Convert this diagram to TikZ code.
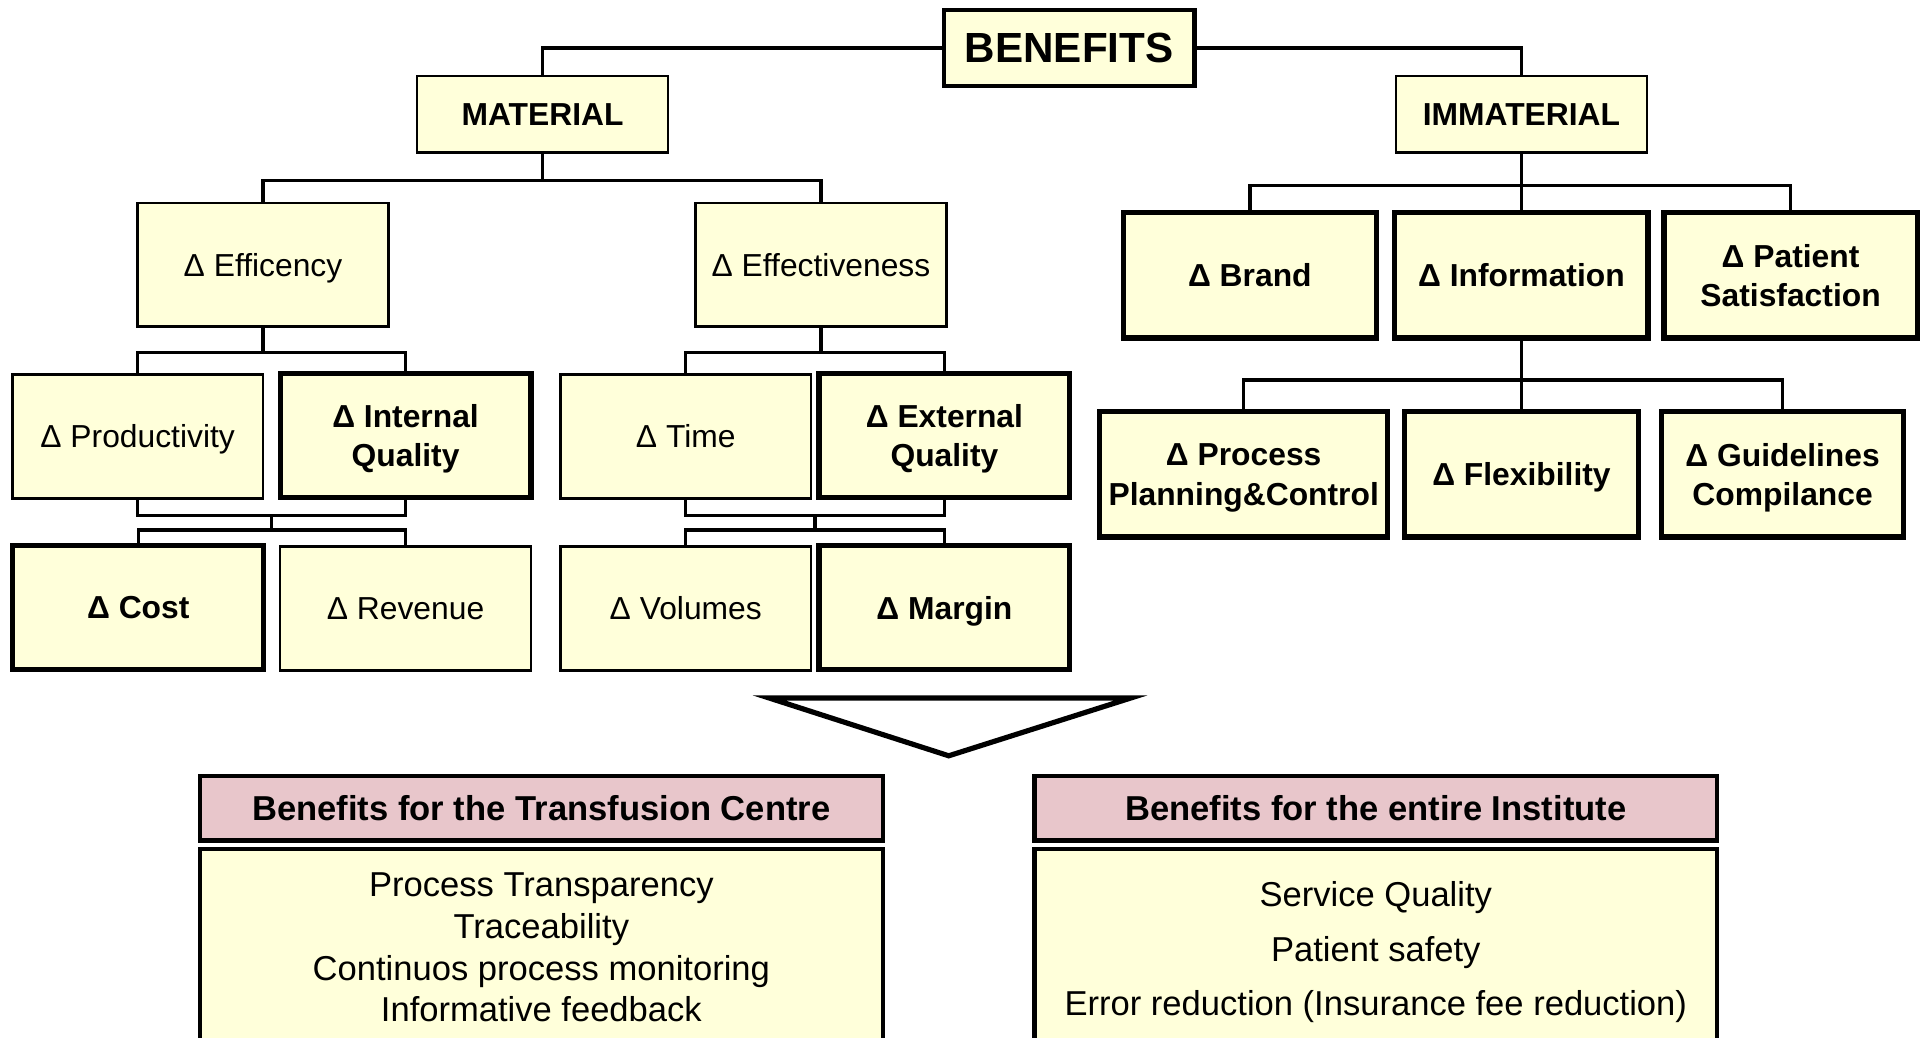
\documentclass[tikz,border=0pt]{standalone}
\usepackage{fontspec}
\setmainfont{Liberation Sans}
\usetikzlibrary{calc}

\definecolor{boxfill}{RGB}{255,255,218}
\definecolor{hdrfill}{RGB}{232,198,203}

% benefit tree styles
\tikzset{
  box/.style={draw, line width=0.75pt, fill=boxfill, inner sep=1pt, align=center,
    minimum width=2.55cm, minimum height=1.26cm, text depth=0pt,
    font=\fontsize{9.2}{11.4}\selectfont},
  keybox/.style={box, line width=1.5pt, font=\fontsize{9.2}{11.4}\selectfont\bfseries},
  headbox/.style={box, minimum height=0.775cm, font=\fontsize{9.2}{11.4}\selectfont\bfseries},
  link/.style={line width=1pt},
  titlebar/.style={draw, line width=1.2pt, fill=hdrfill, minimum width=6.94cm,
    minimum height=0.66cm, font=\fontsize{10}{12}\selectfont\bfseries},
  listbox/.style={draw, line width=1.2pt, fill=boxfill, minimum width=6.94cm,
    align=center, font=\fontsize{10}{12.1}\selectfont}
}

\begin{document}
\begin{tikzpicture}[x=0.0125cm, y=-0.0125cm]
  \useasboundingbox (0,0) rectangle (1568,844);

  % top of the tree
  \node[headbox, line width=1.3pt, font=\fontsize{12.2}{14}\selectfont\bfseries] (benefits) at (870,39) {BENEFITS};
  \node[headbox] (material) at (441.5,93) {MATERIAL};
  \node[headbox] (immaterial) at (1238,93) {IMMATERIAL};

  % material side
  \node[box] (efficency) at (214,215.5) {Δ Efficency};
  \node[box] (effectiveness) at (668,215.5) {Δ Effectiveness};
  \node[box] (productivity) at (112,355) {Δ Productivity};
  \node[keybox] (intquality) at (330,354.5) {Δ Internal\\Quality};
  \node[keybox] (cost) at (112.5,494.5) {Δ Cost};
  \node[box] (revenue) at (330,495) {Δ Revenue};
  \node[box] (time) at (558,355) {Δ Time};
  \node[keybox] (extquality) at (768.5,354.5) {Δ External\\Quality};
  \node[box] (volumes) at (558,495) {Δ Volumes};
  \node[keybox] (margin) at (768.5,494.5) {Δ Margin};

  % immaterial side
  \node[keybox, minimum width=2.575cm, minimum height=1.275cm] (brand) at (1017,224) {Δ Brand};
  \node[keybox, minimum width=2.575cm, minimum height=1.275cm] (information) at (1238,224) {Δ Information};
  \node[keybox, minimum width=2.575cm, minimum height=1.275cm] (patient) at (1457,224) {Δ Patient\\Satisfaction};
  \node[keybox, minimum width=2.925cm, minimum height=1.275cm] (process) at (1012,386) {Δ Process\\Planning\&Control};
  \node[keybox, minimum width=2.375cm, minimum height=1.275cm] (flexibility) at (1238,386) {Δ Flexibility};
  \node[keybox, minimum width=2.4625cm, minimum height=1.275cm] (guidelines) at (1450.5,386) {Δ Guidelines\\Compilance};

  % connectors
  \draw[link] (benefits.west) -| (material.north);
  \draw[link] (benefits.east) -| (immaterial.north);
  \draw[link] (material.south) -- ++(0,22) coordinate (mat-bus);
  \draw[link] (efficency.north) |- (mat-bus) -| (effectiveness.north);

  \draw[link] (efficency.south) -- ++(0,20) coordinate (eff-bus);
  \draw[link] (productivity.north) |- (eff-bus) -| (intquality.north);
  \coordinate (eff-join) at ($(productivity.south)!0.5!(intquality.south)+(0,12.5)$);
  \draw[link] (productivity.south) |- (eff-join) -| (intquality.south);
  \draw[link] (eff-join) -- ++(0,12) coordinate (eff-bus2);
  \draw[link] (cost.north) |- (eff-bus2) -| (revenue.north);

  \draw[link] (effectiveness.south) -- ++(0,20) coordinate (efv-bus);
  \draw[link] (time.north) |- (efv-bus) -| (extquality.north);
  \coordinate (efv-join) at ($(time.south)!0.5!(extquality.south)+(0,12.5)$);
  \draw[link] (time.south) |- (efv-join) -| (extquality.south);
  \draw[link] (efv-join) -- ++(0,12) coordinate (efv-bus2);
  \draw[link] (volumes.north) |- (efv-bus2) -| (margin.north);

  \draw[link] (immaterial.south) -- ++(0,26) coordinate (imm-bus);
  \draw[link] (brand.north) |- (imm-bus) -| (patient.north);
  \draw[link] (imm-bus) -- (information.north);
  \draw[link] (information.south) -- ++(0,32) coordinate (inf-bus);
  \draw[link] (process.north) |- (inf-bus) -| (guidelines.north);
  \draw[link] (inf-bus) -- (flexibility.north);

  % big arrow
  \draw[line width=1.5pt, fill=white] (626,568) -- (920,568) -- (772,615) -- cycle;

  % results
  \node[titlebar] (centre-head) at (440.5,657.5) {Benefits for the Transfusion Centre};
  \node[listbox, minimum height=2cm] (centre-list) at (440.5,771)
    {Process Transparency\\Traceability\\Continuos process monitoring\\Informative feedback};
  \node[titlebar] (inst-head) at (1119.5,657.5) {Benefits for the entire Institute};
  \node[listbox, minimum height=2.1cm, font=\fontsize{10}{15.8}\selectfont] (inst-list) at (1119.5,775)
    {Service Quality\\Patient safety\\Error reduction (Insurance fee reduction)};
\end{tikzpicture}
\end{document}
